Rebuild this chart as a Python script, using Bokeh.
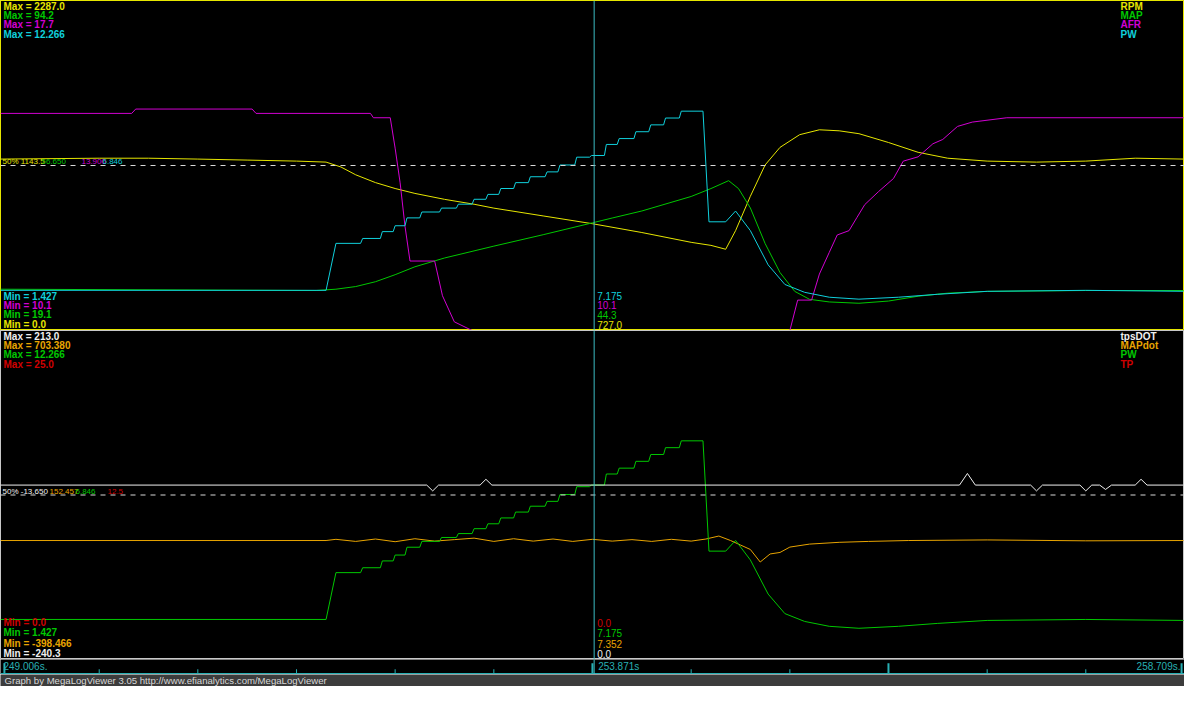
from bokeh.plotting import figure
from bokeh.models import Range1d, Label, Span
from bokeh.layouts import column
from bokeh.embed import file_html
from bokeh.resources import INLINE

# ---------------- time window (s) ----------------
t_start = 249.006
t_end = 258.709
t_cursor = 253.871

# ---------------- top panel series ----------------
rpm_t = [249.006, 249.815, 250.219, 250.623, 251.027, 251.432, 251.674, 251.796, 251.917, 252.079,
         252.240, 252.402, 252.645, 252.887, 253.049, 253.453, 253.857, 254.262, 254.666, 254.828,
         254.949, 255.030, 255.151, 255.272, 255.394, 255.555, 255.717, 255.879, 256.041, 256.283,
         256.526, 256.768, 257.092, 257.496, 257.900, 258.305, 258.701]
rpm_v = [1188, 1194, 1194, 1188, 1181, 1174, 1167, 1133, 1079, 1025,
         984, 950, 909, 875, 848, 794, 740, 679, 611, 590,
         563, 692, 930, 1147, 1269, 1357, 1391, 1384, 1364, 1303,
         1235, 1194, 1174, 1167, 1174, 1194, 1188]

map_t = [249.006, 251.593, 251.755, 251.917, 252.079, 252.240, 252.402, 252.645, 253.049, 253.453,
         253.857, 254.019, 254.262, 254.666, 254.828, 254.973, 255.054, 255.151, 255.272, 255.394,
         255.515, 255.636, 255.798, 256.041, 256.283, 256.526, 256.768, 257.092, 257.900, 258.701]
map_v = [28.5, 28.2, 28.5, 29.1, 30.2, 31.8, 33.6, 35.6, 38.3, 40.9,
         43.6, 44.7, 46.3, 49.6, 51.4, 53.2, 51.4, 47.0, 38.9, 32.3,
         28.0, 26.2, 25.6, 25.3, 25.8, 26.9, 27.6, 28.0, 28.2, 28.2]

afr_t = [249.006, 250.081, 250.114, 251.068, 251.100, 252.038, 252.062, 252.200, 252.240, 252.281,
         252.321, 252.362, 252.564, 252.628, 252.725, 252.871, 255.475, 255.539, 255.653, 255.717,
         255.798, 255.863, 255.960, 256.024, 256.089, 256.202, 256.324, 256.404, 256.526, 256.647,
         256.728, 256.849, 256.970, 257.253, 258.701]
afr_v = [15.1, 15.1, 15.2, 15.2, 15.1, 15.1, 15.0, 15.0, 14.3, 13.5,
         12.5, 11.7, 11.7, 10.9, 10.3, 10.1, 10.1, 10.8, 10.8, 11.4,
         11.9, 12.3, 12.4, 12.7, 13.0, 13.3, 13.6, 14.0, 14.1, 14.4,
         14.5, 14.8, 14.9, 15.0, 15.0]

pw_t = [249.006, 251.674, 251.755, 251.957, 251.974, 252.119, 252.135, 252.224, 252.240, 252.321,
        252.337, 252.442, 252.459, 252.604, 252.620, 252.742, 252.758, 252.871, 252.887, 252.984,
        253.000, 253.089, 253.106, 253.211, 253.227, 253.332, 253.348, 253.469, 253.485, 253.574,
        253.591, 253.712, 253.728, 253.833, 253.849, 253.955, 253.971, 254.060, 254.076, 254.197,
        254.213, 254.318, 254.335, 254.440, 254.456, 254.569, 254.585, 254.763, 254.812, 254.949,
        255.030, 255.151, 255.297, 255.434, 255.596, 255.798, 256.041, 256.364, 256.687, 257.092,
        257.900, 258.701]
pw_v = [2.746, 2.746, 4.289, 4.289, 4.450, 4.450, 4.675, 4.675, 4.868, 4.868,
        5.126, 5.126, 5.319, 5.319, 5.447, 5.447, 5.576, 5.576, 5.737, 5.737,
        5.898, 5.898, 6.091, 6.091, 6.284, 6.284, 6.477, 6.477, 6.637, 6.637,
        6.863, 6.863, 7.120, 7.120, 7.175, 7.175, 7.538, 7.538, 7.731, 7.731,
        7.956, 7.956, 8.181, 8.181, 8.406, 8.406, 8.631, 8.631, 4.997, 4.997,
        5.351, 4.708, 3.582, 2.939, 2.681, 2.520, 2.456, 2.520, 2.617, 2.714,
        2.746, 2.714]

# ---------------- bottom panel series ----------------
tpsdot_t = [249.006, 252.499, 252.548, 252.596, 252.936, 252.984, 253.033, 256.865, 256.930, 256.995,
            257.448, 257.496, 257.545, 257.852, 257.900, 257.949, 258.014, 258.062, 258.111, 258.305,
            258.353, 258.402, 258.701]
tpsdot_v = [0, 0, -8, 0, 0, 8, 0, 0, 16, 0,
            0, -8, 0, 0, -8, 0, 0, -6, 0, 0,
            8, 0, 0]

mapdot_t = [249.006, 251.674, 251.755, 251.917, 252.079, 252.240, 252.402, 252.564, 252.725, 252.887,
            253.049, 253.211, 253.372, 253.534, 253.696, 253.857, 254.019, 254.181, 254.343, 254.504,
            254.666, 254.787, 254.893, 254.989, 255.070, 255.151, 255.232, 255.313, 255.394, 255.475,
            255.636, 255.879, 256.121, 256.445, 257.092, 257.900, 258.701]
mapdot_v = [0, 0, 4, -3, 5, -4, 6, -2, 3, 8,
            -3, 6, -2, 5, -3, 4, -2, 3, -3, 4,
            -2, 5, 15, 0, -15, -30, -72, -45, -40, -22,
            -12, -6, -3, 0, 2, -1, 0]

tp_t = [249.006, 258.709]
tp_v = [0.0, 0.0]

# ---------------- panel texts ----------------
top_names = ["RPM", "MAP", "AFR", "PW"]
top_min = ["0.0", "19.1", "10.1", "1.427"]
top_max = ["2287.0", "94.2", "17.7", "12.266"]
top_mid = ["1143.5", "56.650", "13.900", "6.846"]
top_cur = ["727.0", "44.3", "10.1", "7.175"]

bot_names = ["tpsDOT", "MAPdot", "PW", "TP"]
bot_min = ["-240.3", "-398.466", "1.427", "0.0"]
bot_max = ["213.0", "703.380", "12.266", "25.0"]
bot_mid = ["-13.650", "152.457", "6.846", "12.5"]
bot_cur = ["0.0", "7.352", "7.175", "0.0"]

# time-axis ticks
tick_t = [249.038, 249.815, 250.623, 251.432, 252.240, 253.049, 253.857, 254.666,
          255.475, 256.283, 257.092, 257.900, 258.685]
tick_major = [1, 0, 0, 0, 0, 0, 1, 0, 0, 1, 0, 0, 1]

footer_text = "Graph by MegaLogViewer 3.05 http://www.efianalytics.com/MegaLogViewer"

# ---------------- styling ----------------
W = 1184
FONT = "Liberation Sans"
top_colors = ["#e6e600", "#00c800", "#d200d2", "#10d0dc"]
bot_colors = ["#f0f0f0", "#e8a400", "#00c800", "#d00000"]
CURSOR_COLOR = "#3cbcc4"
AXIS_COLOR = "#28b0b4"

xr = Range1d(t_start, t_end)


def base_fig(h, y0, y1, outline=None, bg="black"):
    p = figure(width=W, height=h, x_range=xr, y_range=Range1d(y0, y1),
               output_backend="svg", toolbar_location=None,
               x_axis_location=None, y_axis_location=None,
               min_border=0, min_border_left=0, min_border_right=0,
               min_border_top=0, min_border_bottom=0,
               background_fill_color=bg, border_fill_color=bg,
               outline_line_color=outline)
    p.xgrid.visible = False
    p.ygrid.visible = False
    return p


def make_panel(h, series, names, colors, mins, maxs, mids, curs, mid_x,
               min_off, outline, order):
    lo0, hi0 = float(mins[0]), float(maxs[0])
    p = base_fig(h, lo0, hi0, outline=outline)
    p.extra_y_ranges = {f"r{i}": Range1d(float(mins[i]), float(maxs[i])) for i in range(1, 4)}
    p.add_layout(Span(location=(lo0 + hi0) / 2, dimension="width",
                      line_color="#d8d8d8", line_dash="5 5", line_width=1))
    for i in order:
        ts, vs = series[i]
        p.line(ts, vs, y_range_name=("default" if i == 0 else f"r{i}"),
               line_color=colors[i], line_width=1)
    p.add_layout(Span(location=t_cursor, dimension="height",
                      line_color=CURSOR_COLOR, line_width=1))
    for i in range(4):
        yo = -(5.6 + 9.4 * i)
        p.add_layout(Label(x=t_start, y=hi0, x_offset=3, y_offset=yo,
                           text=f"Max = {maxs[i]}", text_baseline="middle",
                           text_font=FONT, text_font_style="bold",
                           text_font_size="10px", text_color=colors[i]))
        p.add_layout(Label(x=t_end, y=hi0, x_offset=-64, y_offset=yo,
                           text=names[i], text_baseline="middle",
                           text_font=FONT, text_font_style="bold",
                           text_font_size="10px", text_color=colors[i]))
    for k, i in enumerate([3, 2, 1, 0]):
        yo = min_off[k]
        p.add_layout(Label(x=t_start, y=lo0, x_offset=3, y_offset=yo,
                           text=f"Min = {mins[i]}", text_baseline="middle",
                           text_font=FONT, text_font_style="bold",
                           text_font_size="10px", text_color=colors[i]))
        p.add_layout(Label(x=t_cursor, y=lo0, x_offset=3, y_offset=yo,
                           text=curs[i], text_baseline="middle",
                           text_font=FONT, text_font_size="10px",
                           text_color=colors[i]))
    for i in range(4):
        txt = ("50% " + mids[i]) if i == 0 else mids[i]
        p.add_layout(Label(x=t_start, y=(lo0 + hi0) / 2, x_offset=mid_x[i], y_offset=4,
                           text=txt, text_baseline="middle",
                           text_font=FONT, text_font_size="8px",
                           text_color=colors[i]))
    return p


top = make_panel(330,
                 [(rpm_t, rpm_v), (map_t, map_v), (afr_t, afr_v), (pw_t, pw_v)],
                 top_names, top_colors, top_min, top_max, top_mid, top_cur,
                 [2, 41, 81, 102], [34.2, 25.4, 15.6, 5.9], "#e6e600", [0, 1, 2, 3])

bottom = make_panel(329,
                    [(tpsdot_t, tpsdot_v), (mapdot_t, mapdot_v), (pw_t, pw_v), (tp_t, tp_v)],
                    bot_names, bot_colors, bot_min, bot_max, bot_mid, bot_cur,
                    [2, 49, 75, 107], [36.7, 26.9, 15.6, 5.9], "#c8c8c8", [3, 1, 2, 0])

# ---------------- time strip ----------------
strip = base_fig(15, 0, 1)
strip.segment(x0=tick_t, y0=[0] * len(tick_t), x1=tick_t,
              y1=[0.75 if m else 0.35 for m in tick_major],
              line_color=AXIS_COLOR, line_width=[2 if m else 1 for m in tick_major])
strip.add_layout(Span(location=0.03, dimension="width", line_color=AXIS_COLOR, line_width=2))
strip.add_layout(Span(location=t_cursor, dimension="height", line_color=CURSOR_COLOR, line_width=1))
strip.add_layout(Label(x=t_start, y=0.55, x_offset=3, text=f"{t_start:.3f}s.",
                       text_baseline="middle", text_font=FONT, text_font_size="10px",
                       text_color=AXIS_COLOR))
strip.add_layout(Label(x=t_cursor, y=0.55, x_offset=4, text=f"{t_cursor:.3f}s",
                       text_baseline="middle", text_font=FONT, text_font_size="10px",
                       text_color=AXIS_COLOR))
strip.add_layout(Label(x=t_end, y=0.55, x_offset=-4, text=f"{t_end:.3f}s.",
                       text_align="right", text_baseline="middle", text_font=FONT,
                       text_font_size="10px", text_color=AXIS_COLOR))

# ---------------- footer ----------------
footer = base_fig(12, 0, 1, bg="#3c3c3c")
footer.add_layout(Label(x=t_start, y=0.5, x_offset=4, text=footer_text,
                        text_baseline="middle", text_font=FONT, text_font_size="9.6px",
                        text_color="#d8d8d8"))

layout = column(top, bottom, strip, footer, spacing=0)
open("out.html", "w").write(file_html(layout, INLINE))
